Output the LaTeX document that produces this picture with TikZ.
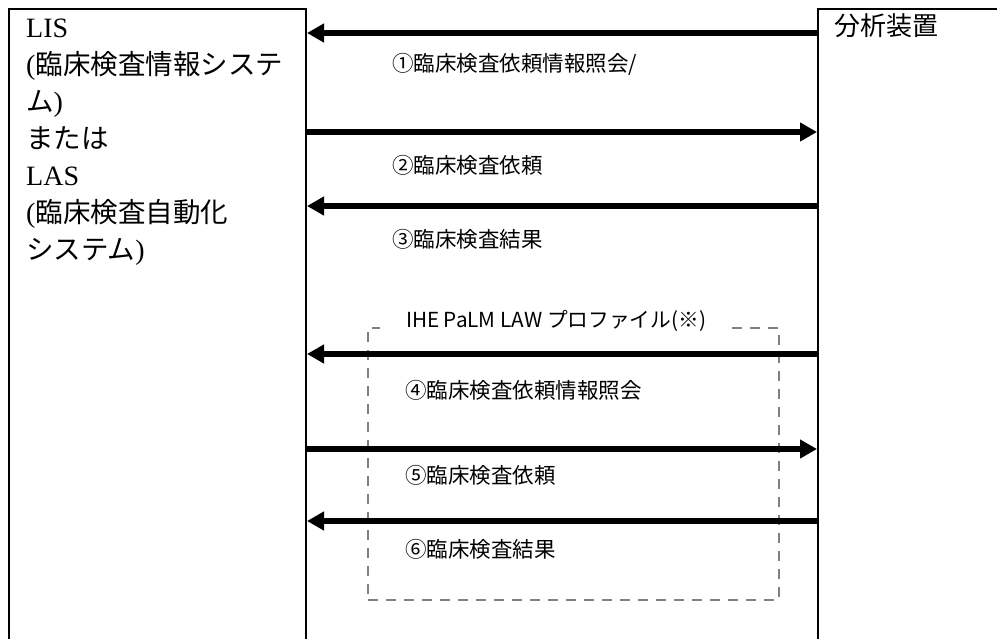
\documentclass[tikz,border=0pt]{standalone}
\usepackage{fontspec}
\setmainfont{Liberation Serif}
\newfontfamily\jp{Noto Sans CJK JP}
\newcommand\jpbig[1]{{\fontsize{27.5}{37}\selectfont\jp #1}}
\usetikzlibrary{arrows.meta}
\begin{document}
\begin{tikzpicture}[x=1pt,y=-1pt,
  sysbox/.style={draw,line width=2pt,anchor=north west,inner sep=0pt},
  arr/.style={line width=6pt,-{Triangle[length=17pt,width=18pt]}},
  msg/.style={anchor=west,inner sep=0pt,font=\fontsize{21.5}{24}\selectfont\jp},
  dbox/.style={draw=gray,line width=2.4pt,dash pattern=on 10pt off 8pt}]
\useasboundingbox (0,0) rectangle (997,638);
\clip (0,0) rectangle (997,638);
\fill[white] (0,0) rectangle (997,638);
% system boxes
\node[sysbox,minimum width=297pt,minimum height=660pt] (lis) at (8,8) {};
\node[sysbox,minimum width=220pt,minimum height=660pt] (ana) at (817,8) {};
\node[anchor=north west,align=left,inner sep=0pt,font=\fontsize{28}{37}\selectfont] (lisl) at (26,19)
 {LIS\\(\jpbig{臨床検査情報システ}\\\jpbig{ム})\\\jpbig{または}\\LAS\\(\jpbig{臨床検査自動化}\\\jpbig{システム})};
\node[anchor=north west,inner sep=0pt,font=\fontsize{26}{30}\selectfont\jp] (anal) at (834,13) {分析装置};
% dashed profile box
\node[dbox,anchor=north west,minimum width=411pt,minimum height=272pt,inner sep=0pt] (prof) at (367,327) {};
\node[fill=white,inner xsep=26pt,inner ysep=3pt,font=\fontsize{20.7}{24}\selectfont\jp] (profl) at (556,321) {IHE PaLM LAW プロファイル(※)};
% named arrow levels
\coordinate (y1) at (0,33);
\coordinate (y2) at (0,132);
\coordinate (y3) at (0,206);
\coordinate (y4) at (0,354);
\coordinate (y5) at (0,449);
\coordinate (y6) at (0,521);
\draw[arr] (ana.west |- y1) -- (lis.east |- y1);
\draw[arr] (lis.east |- y2) -- (ana.west |- y2);
\draw[arr] (ana.west |- y3) -- (lis.east |- y3);
\draw[arr] (ana.west |- y4) -- (lis.east |- y4);
\draw[arr] (lis.east |- y5) -- (ana.west |- y5);
\draw[arr] (ana.west |- y6) -- (lis.east |- y6);
% labels
\node[msg] (m1) at (392,64) {①臨床検査依頼情報照会/};
\node[msg] (m2) at (392,165) {②臨床検査依頼};
\node[msg] (m3) at (392,239) {③臨床検査結果};
\node[msg] (m4) at (405,390) {④臨床検査依頼情報照会};
\node[msg] (m5) at (405,475) {⑤臨床検査依頼};
\node[msg] (m6) at (405,549) {⑥臨床検査結果};
\end{tikzpicture}
\end{document}
